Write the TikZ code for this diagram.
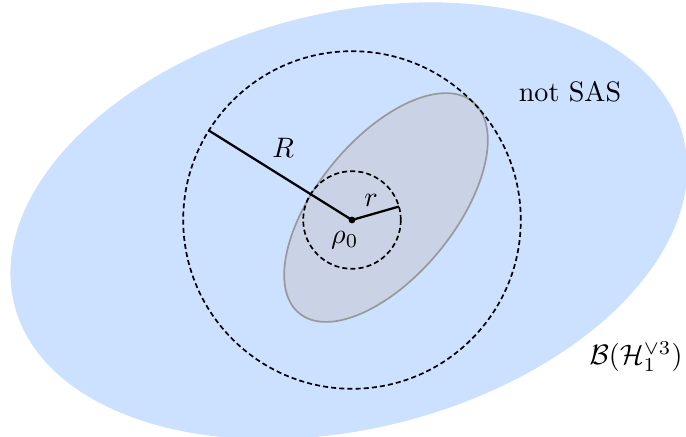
\documentclass[tikz,border=0pt]{standalone}
\usepackage{amsmath,amssymb}
\usepackage{xcolor}
\usepackage{tikz}
\usetikzlibrary{calc}

\definecolor{sasblue}{RGB}{204,224,255}
\definecolor{setgray}{RGB}{201,211,229}

\begin{document}
\begin{tikzpicture}[
    every node/.style={font=\normalsize},
    region/.style={fill=sasblue, draw=none},
    convset/.style={fill=setgray, draw=black!40, line width=0.6pt},
    ballline/.style={draw, semithick, dash pattern=on 1.8pt off 1.1pt},
    radline/.style={thick}
]
\useasboundingbox (-4.4,-2.7125) rectangle (4.175,2.75);

% --- Outer region (all states) ---
\fill[region, rotate around={14:(-0.04,-0.01)}] (-0.04,-0.01) ellipse (4.31cm and 2.6cm);

% --- Inner convex set ---
\filldraw[convset, rotate around={50.6:(0.425,0.156)}] (0.425,0.156) ellipse (1.71cm and 0.86cm);

% --- Centre and balls ---
\coordinate (rho) at (0,0);
\draw[ballline] (rho) circle (2.11cm);
\draw[ballline] (rho) circle (0.61cm);

% --- Radii ---
\coordinate (Rend) at (148:2.11);
\coordinate (rend) at (16:0.61);
\draw[radline] (rho) -- (Rend);
\draw[radline] (rho) -- (rend);
\fill (rho) circle (1.2pt);

% --- Labels ---
\node (Rlab) at (-0.86,0.9) {$R$};
\node (rlab) at (0.24,0.25) {$r$};
\node (rholab) at (-0.09,-0.25) {$\rho_0$};
\node (notsas) at (2.725,1.6) {not SAS};
\node (space) at (3.55,-1.71) {$\mathcal{B}(\mathcal{H}_1^{\vee 3})$};

\end{tikzpicture}
\end{document}
